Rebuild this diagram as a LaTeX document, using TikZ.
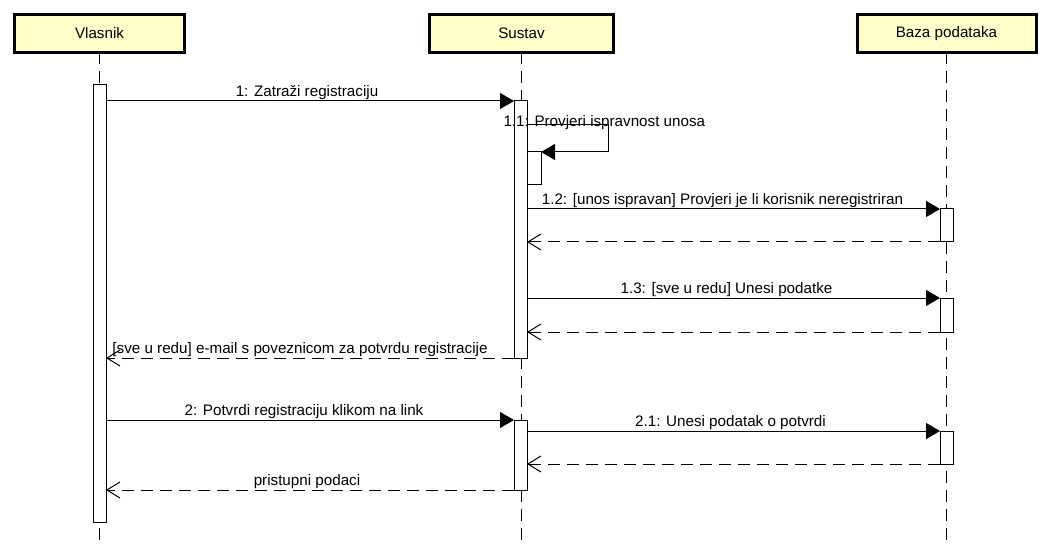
\documentclass[tikz,border=0pt]{standalone}
\usepackage{fontspec}
\setmainfont{Liberation Sans}
\usetikzlibrary{arrows.meta}
\definecolor{headyellow}{RGB}{255,255,204}

\begin{document}
\begin{tikzpicture}[x=1pt,y=-1pt,
    font=\fontsize{15.2}{18}\selectfont,
    head/.style={draw,line width=3pt,fill=headyellow,minimum height=38pt,inner sep=0pt,outer sep=0pt},
    life/.style={line width=1pt,dash pattern=on 12pt off 7pt},
    bar/.style={draw,fill=white,line width=1pt,minimum width=13pt,inner sep=0pt,outer sep=0pt},
    call/.style={line width=1pt,-{Triangle[length=14pt,width=16pt]}},
    reply/.style={line width=1pt,dash pattern=on 12pt off 7pt,-{Straight Barb[length=13pt,width=16pt,line width=1pt]}},
    msg/.style={midway,above,inner sep=1pt}]

        \useasboundingbox (0,0) rectangle (1050,556);

        % Define the three participants
        \node[head,minimum width=170pt] (vlasnik) at (99.5,33.5) {Vlasnik};
        \node[head,minimum width=184pt] (sustav) at (521.5,33.5) {Sustav};
        \node[head,minimum width=179pt] (baza) at (946.5,33.5) {Baza podataka};

        % Draw the lifelines
        \coordinate (bottom) at (0,545);
        \draw[life] (vlasnik.south) -- (vlasnik.south |- bottom);
        \draw[life] (sustav.south) -- (sustav.south |- bottom);
        \draw[life] (baza.south) -- (baza.south |- bottom);

        % Draw the activation bars
        \node[bar,minimum height=437pt] (vbar) at (99.5,303.5) {};
        \node[bar,minimum height=257pt] (sbar1) at (520.5,229.5) {};
        \node[bar,minimum width=14pt,minimum height=33pt] (sself) at (534,168.5) {};
        \node[bar,minimum height=70pt] (sbar2) at (520.5,455) {};
        \node[bar,minimum height=33pt] (bbar1) at (946.5,225.5) {};
        \node[bar,minimum height=34pt] (bbar2) at (946.5,315) {};
        \node[bar,minimum height=33pt] (bbar3) at (946.5,447.5) {};

        % Registration request
        \draw[call] (vbar.east |- sbar1.north west) -- (sbar1.north west) node[msg,xshift=-3pt]{1: Zatraži registraciju};

        % Self call on the system
        \coordinate (loop) at (608,125);
        \draw[call] (sbar1.east |- loop) -- (loop) |- (sself.north east);
        \node[anchor=base west] (check) at (500,127) {1.1: Provjeri ispravnost unosa};

        % Calls to the database and their replies
        \draw[call] (sbar1.east |- bbar1.north west) -- (bbar1.north west) node[msg,xshift=-11pt]{1.2: [unos ispravan] Provjeri je li korisnik neregistriran};
        \draw[reply] (bbar1.south west) -- (sbar1.east |- bbar1.south west);
        \draw[call] (sbar1.east |- bbar2.north west) -- (bbar2.north west) node[msg,xshift=-7pt]{1.3: [sve u redu] Unesi podatke};
        \draw[reply] (bbar2.south west) -- (sbar1.east |- bbar2.south west);
        \draw[reply] (sbar1.south west) -- (vbar.east |- sbar1.south west) node[msg,xshift=-10pt]{[sve u redu] e-mail s poveznicom za potvrdu registracije};

        % Confirmation
        \draw[call] (vbar.east |- sbar2.north west) -- (sbar2.north west) node[msg,xshift=-6pt]{2: Potvrdi registraciju klikom na link};
        \draw[call] (sbar2.east |- bbar3.north west) -- (bbar3.north west) node[msg,xshift=-3pt]{2.1: Unesi podatak o potvrdi};
        \draw[reply] (bbar3.south west) -- (sbar2.east |- bbar3.south west);
        \draw[reply] (sbar2.south west) -- (vbar.east |- sbar2.south west) node[msg,xshift=-3pt]{pristupni podaci};

    \end{tikzpicture}
\end{document}
